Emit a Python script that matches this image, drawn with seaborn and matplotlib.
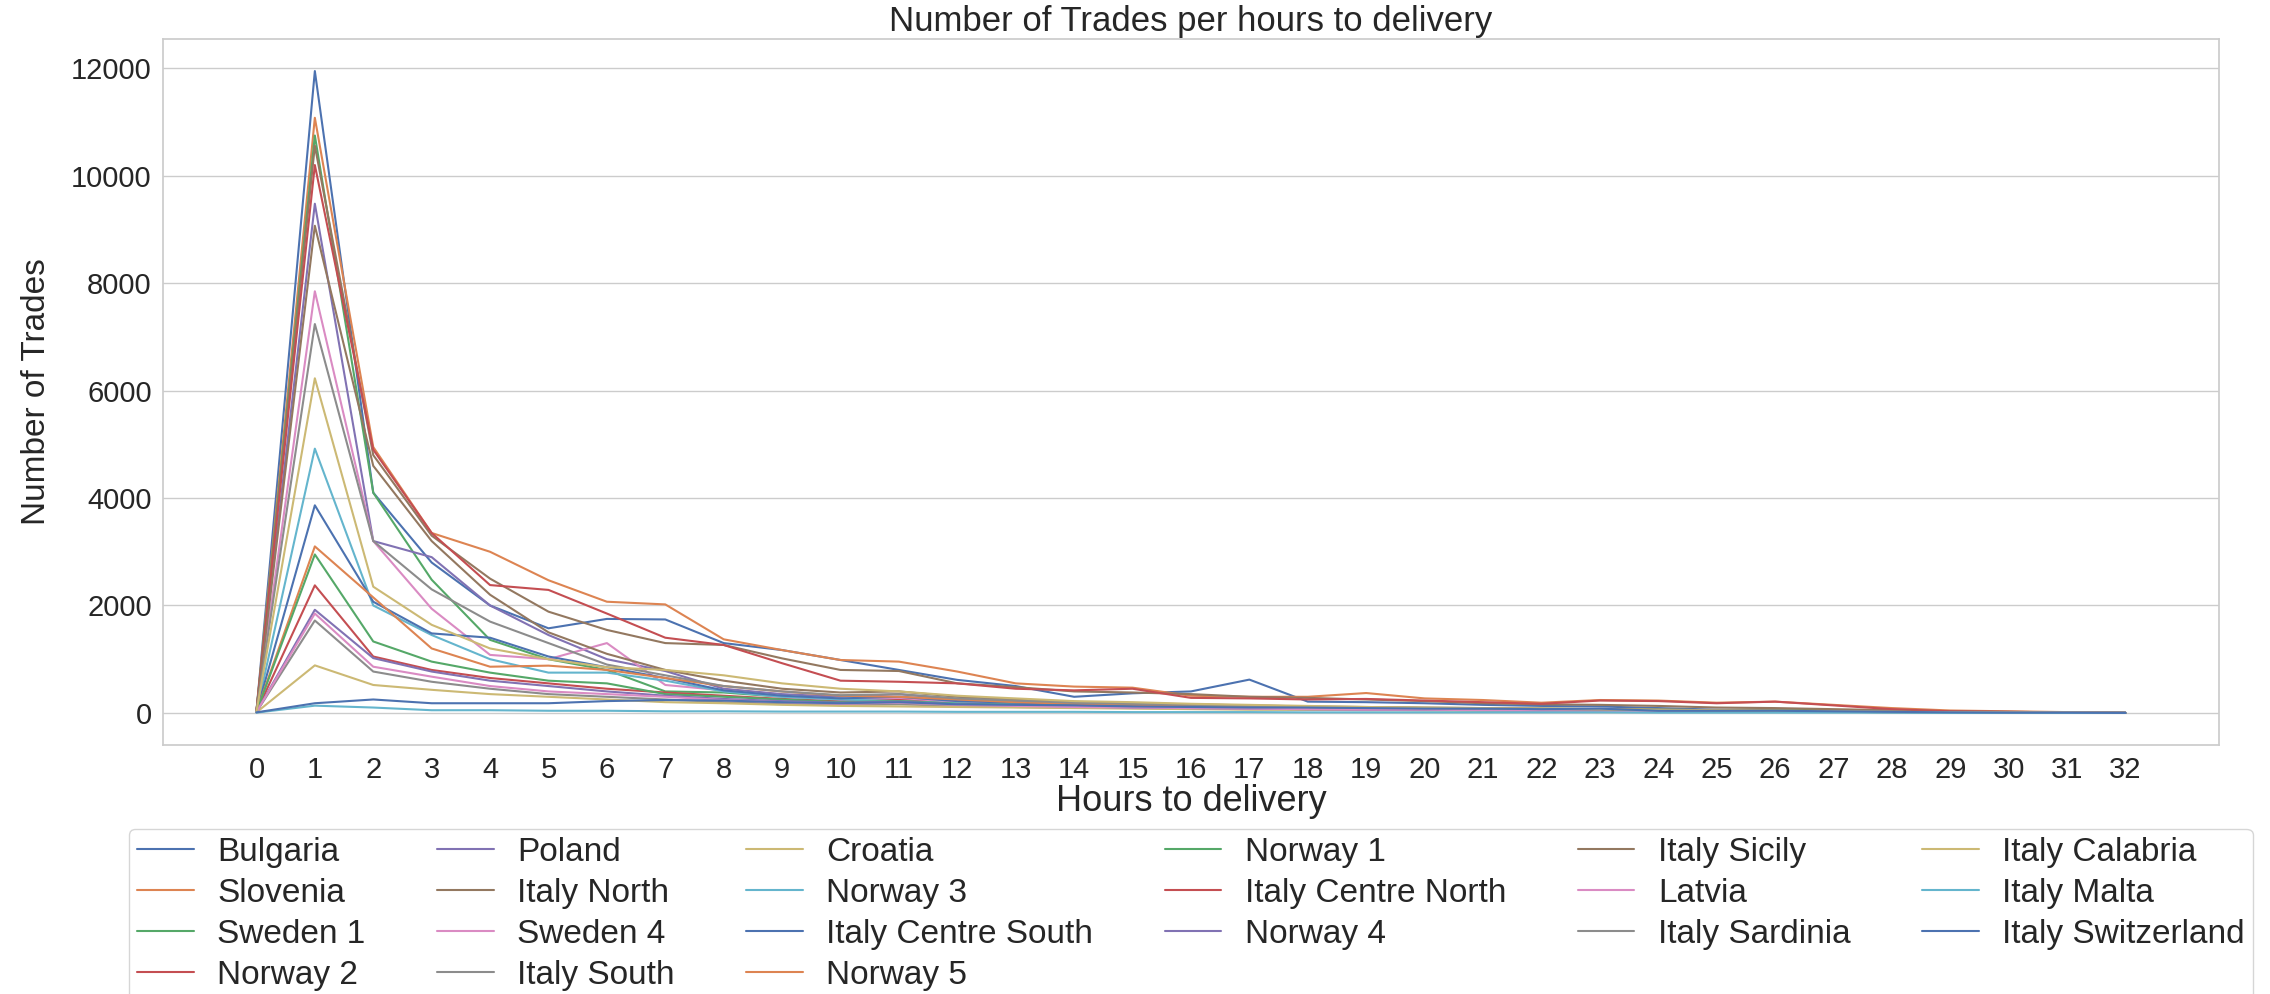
import numpy as np
import pandas as pd
import matplotlib
matplotlib.use("Agg")
import matplotlib.pyplot as plt
import seaborn as sns

# Hours to delivery (x axis)
hours = list(range(33))

# Trades per zone
zones = [
    "Bulgaria", "Slovenia", "Sweden 1", "Norway 2",
    "Poland", "Italy North", "Sweden 4", "Italy South",
    "Croatia", "Norway 3", "Italy Centre South", "Norway 5",
    "Norway 1", "Italy Centre North", "Norway 4",
    "Italy Sicily", "Latvia", "Italy Sardinia",
    "Italy Calabria", "Italy Malta", "Italy Switzerland",
]

bulgaria = [30, 11950, 4100, 2800, 2000, 1575, 1750, 1740, 1300, 1170, 985, 800, 615, 500, 300, 365, 400, 620, 210, 200, 180, 150, 130, 120, 90, 60, 50, 40, 30, 20, 15, 10, 5]
slovenia = [30, 11080, 4950, 3350, 3000, 2470, 2070, 2020, 1370, 1170, 985, 955, 770, 550, 490, 470, 320, 300, 300, 370, 270, 240, 190, 240, 230, 190, 210, 150, 90, 45, 30, 15, 0]
sweden_1 = [20, 10750, 4100, 2480, 1360, 1000, 800, 400, 380, 300, 250, 300, 200, 180, 150, 150, 120, 110, 100, 100, 90, 80, 80, 70, 60, 50, 70, 40, 30, 20, 10, 5, 0]
norway_2 = [20, 2375, 1050, 800, 650, 550, 450, 380, 320, 260, 220, 250, 200, 180, 150, 130, 110, 100, 100, 90, 80, 80, 70, 60, 50, 40, 40, 30, 20, 10, 5, 5, 0]
poland = [20, 9480, 3200, 2900, 2000, 1450, 1000, 780, 450, 350, 300, 350, 250, 220, 180, 160, 140, 120, 110, 100, 90, 80, 70, 60, 50, 40, 40, 30, 20, 10, 5, 5, 0]
italy_north = [30, 10560, 4800, 3300, 2500, 1885, 1545, 1300, 1265, 1015, 800, 780, 550, 480, 400, 380, 350, 300, 280, 250, 220, 180, 160, 150, 130, 100, 90, 70, 50, 30, 20, 10, 0]
sweden_4 = [20, 7850, 3200, 1940, 1080, 1000, 1300, 520, 420, 300, 250, 280, 200, 180, 150, 140, 120, 100, 100, 90, 80, 70, 60, 60, 50, 40, 40, 30, 20, 10, 5, 5, 0]
italy_south = [15, 1720, 770, 580, 450, 350, 300, 250, 200, 170, 150, 160, 130, 110, 100, 90, 80, 70, 60, 60, 50, 50, 40, 40, 30, 30, 30, 20, 15, 10, 5, 5, 0]
croatia = [10, 885, 520, 430, 350, 300, 250, 200, 180, 150, 130, 120, 110, 100, 90, 80, 70, 60, 60, 50, 50, 40, 40, 30, 30, 25, 25, 20, 15, 10, 5, 5, 0]
norway_3 = [20, 4920, 2000, 1450, 1000, 750, 750, 600, 400, 300, 250, 220, 180, 160, 140, 120, 100, 90, 80, 70, 60, 60, 50, 50, 40, 30, 30, 20, 15, 10, 5, 5, 0]
italy_centre_south = [20, 3865, 2070, 1480, 1400, 1050, 850, 650, 420, 320, 270, 300, 220, 190, 160, 140, 120, 100, 90, 80, 70, 70, 60, 50, 40, 30, 30, 20, 15, 10, 5, 5, 0]
norway_5 = [20, 3100, 2150, 1200, 860, 880, 800, 650, 500, 400, 320, 300, 250, 200, 170, 150, 130, 110, 100, 90, 80, 70, 60, 50, 40, 30, 30, 20, 15, 10, 5, 5, 0]
norway_1 = [20, 2950, 1330, 955, 750, 600, 550, 350, 300, 250, 200, 220, 170, 150, 130, 110, 100, 90, 80, 70, 60, 60, 50, 40, 40, 30, 50, 20, 15, 10, 5, 5, 0]
italy_centre_north = [30, 10200, 4900, 3350, 2380, 2290, 1850, 1400, 1265, 925, 600, 580, 550, 450, 420, 450, 280, 270, 250, 260, 230, 200, 170, 230, 220, 180, 210, 140, 70, 30, 20, 10, 0]
norway_4 = [15, 1920, 1020, 770, 600, 500, 400, 320, 260, 220, 190, 210, 160, 140, 120, 100, 90, 80, 70, 60, 60, 50, 40, 40, 30, 30, 30, 20, 15, 10, 5, 5, 0]
italy_sicily = [20, 9070, 4600, 3200, 2200, 1500, 1100, 800, 600, 450, 380, 400, 300, 250, 200, 180, 160, 140, 120, 110, 100, 90, 80, 70, 60, 50, 45, 35, 25, 15, 10, 5, 0]
latvia = [15, 1850, 860, 675, 500, 400, 350, 300, 240, 200, 170, 190, 150, 130, 110, 100, 90, 80, 70, 60, 60, 50, 40, 40, 30, 30, 30, 20, 15, 10, 5, 5, 0]
italy_sardinia = [20, 7240, 3200, 2300, 1700, 1300, 900, 700, 500, 400, 330, 350, 270, 230, 190, 170, 150, 130, 110, 100, 90, 80, 70, 60, 50, 40, 40, 30, 20, 10, 5, 5, 0]
italy_calabria = [20, 6230, 2350, 1640, 1200, 1000, 850, 800, 700, 550, 450, 400, 320, 270, 220, 200, 170, 150, 130, 110, 100, 90, 80, 70, 60, 50, 40, 30, 20, 10, 5, 5, 0]
italy_malta = [5, 135, 100, 50, 50, 40, 40, 30, 30, 25, 25, 25, 20, 20, 20, 15, 15, 15, 10, 10, 10, 10, 10, 10, 5, 5, 5, 5, 5, 0, 0, 0, 0]
italy_switzerland = [10, 180, 250, 180, 180, 180, 220, 240, 230, 200, 180, 200, 160, 150, 140, 120, 110, 100, 100, 90, 80, 80, 70, 80, 40, 40, 40, 30, 20, 10, 5, 5, 0]

series = [
    bulgaria, slovenia, sweden_1, norway_2,
    poland, italy_north, sweden_4, italy_south,
    croatia, norway_3, italy_centre_south, norway_5,
    norway_1, italy_centre_north, norway_4,
    italy_sicily, latvia, italy_sardinia,
    italy_calabria, italy_malta, italy_switzerland,
]

# Long format for seaborn
rows = []
for zone, values in zip(zones, series):
    for h, v in zip(hours, values):
        rows.append({"Hours to delivery": h, "Number of Trades": v, "Zone": zone})
df = pd.DataFrame(rows)

sns.set_theme(style="whitegrid")
plt.rcParams["font.family"] = ["Liberation Sans", "DejaVu Sans"]

fig = plt.figure(figsize=(22.7, 9.94), dpi=100)
ax = fig.add_axes([0.0718, 0.2505, 0.9057, 0.7103])

sns.lineplot(
    data=df,
    x="Hours to delivery",
    y="Number of Trades",
    hue="Zone",
    hue_order=zones,
    palette=sns.color_palette("deep", len(zones)),
    linewidth=1.5,
    ax=ax,
)

ax.set_xticks(hours)
ax.xaxis.grid(False)
ax.tick_params(labelsize=21, pad=2)
ax.set_title("Number of Trades per hours to delivery", fontsize=25, pad=6)
ax.set_xlabel("Hours to delivery", fontsize=26, labelpad=0)
ax.set_ylabel("Number of Trades", fontsize=24, labelpad=14)

handles, labels = ax.get_legend_handles_labels()
ax.legend(
    handles, labels,
    loc="upper center",
    bbox_to_anchor=(0.5, -0.095),
    ncol=6,
    fontsize=24,
    handlelength=1.7,
    handletextpad=0.7,
    columnspacing=2.15,
    labelspacing=0.3,
    borderpad=0.25,
)

fig.savefig("out.png", dpi=100)
